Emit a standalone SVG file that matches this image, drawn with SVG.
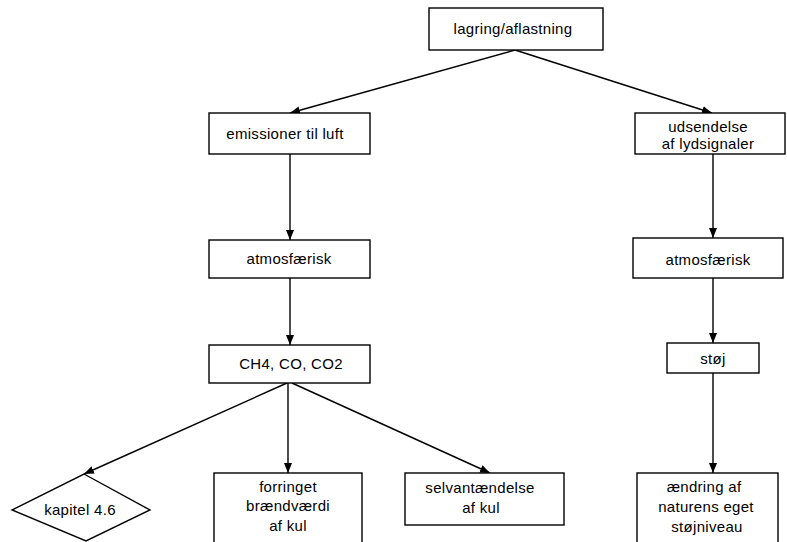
<svg xmlns="http://www.w3.org/2000/svg" width="787" height="542" viewBox="0 0 787 542">
  <style>
    .box { fill: #fff; stroke: #000; stroke-width: 1.4; }
    .lbl { font-family: "Liberation Sans", Arial, sans-serif; font-size: 15px; letter-spacing: 0.3px; fill: #000; text-anchor: middle; }
    .edge { fill: none; stroke: #000; stroke-width: 1.4; marker-end: url(#arrow); }
  </style>
  <defs>
    <marker id="arrow" viewBox="0 0 10 8" refX="10" refY="4" markerWidth="10" markerHeight="8" markerUnits="userSpaceOnUse" orient="auto">
      <path d="M0,0 L10,4 L0,8 Z" fill="#000"/>
    </marker>
  </defs>

  <rect width="787" height="542" fill="#fff"/>

  <g id="connectors">
    <path class="edge" d="M515,50 L290,113"/>
    <path class="edge" d="M515,50 L712,113"/>
    <path class="edge" d="M290,154 L290,240"/>
    <path class="edge" d="M290,278 L290,345"/>
    <path class="edge" d="M287,383 L84,474"/>
    <path class="edge" d="M288,383 L288,473"/>
    <path class="edge" d="M292,383 L490,473"/>
    <path class="edge" d="M713,154 L713,238"/>
    <path class="edge" d="M713,278 L713,343"/>
    <path class="edge" d="M713,373 L713,473"/>
  </g>

  <g id="lagring">
    <rect class="box" x="429" y="8" width="174" height="42"/>
    <text class="lbl" x="513" y="34">lagring/aflastning</text>
  </g>

  <g id="emissioner">
    <rect class="box" x="209" y="113" width="161" height="41"/>
    <text class="lbl" x="285" y="139">emissioner til luft</text>
  </g>

  <g id="udsendelse">
    <rect class="box" x="635" y="113" width="150" height="41"/>
    <text class="lbl" x="708" y="132">udsendelse</text>
    <text class="lbl" x="708" y="149">af lydsignaler</text>
  </g>

  <g id="atmos-left">
    <rect class="box" x="209" y="240" width="161" height="38"/>
    <text class="lbl" x="289" y="264">atmosfærisk</text>
  </g>

  <g id="atmos-right">
    <rect class="box" x="633" y="238" width="150" height="40"/>
    <text class="lbl" x="708" y="265">atmosfærisk</text>
  </g>

  <g id="ch4">
    <rect class="box" x="209" y="345" width="161" height="38"/>
    <text class="lbl" x="291" y="369">CH4, CO, CO2</text>
  </g>

  <g id="stoej">
    <rect class="box" x="667" y="343" width="92" height="30"/>
    <text class="lbl" x="713" y="364">støj</text>
  </g>

  <g id="kapitel">
    <polygon class="box" points="84,474 150,510 86,541 12,510"/>
    <text class="lbl" x="80" y="515">kapitel 4.6</text>
  </g>

  <g id="forringet">
    <rect class="box" x="214" y="473" width="148" height="70"/>
    <text class="lbl" x="288" y="492">forringet</text>
    <text class="lbl" x="288" y="511">brændværdi</text>
    <text class="lbl" x="288" y="531">af kul</text>
  </g>

  <g id="selvantaendelse">
    <rect class="box" x="405" y="473" width="159" height="52"/>
    <text class="lbl" x="480" y="493">selvantændelse</text>
    <text class="lbl" x="481" y="513">af kul</text>
  </g>

  <g id="aendring">
    <rect class="box" x="637" y="473" width="141" height="70"/>
    <text class="lbl" x="704" y="492">ændring af</text>
    <text class="lbl" x="706" y="512">naturens eget</text>
    <text class="lbl" x="707" y="532">støjniveau</text>
  </g>
</svg>
